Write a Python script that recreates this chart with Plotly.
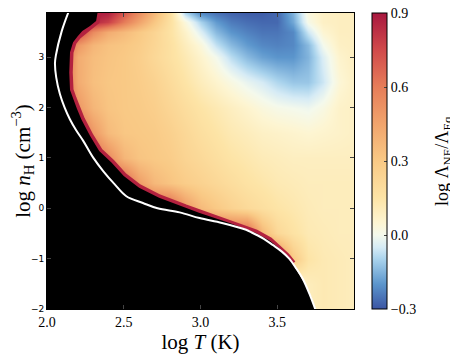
import plotly.graph_objects as go

# grid of the ratio map (log T across, log nH up)
log_T = [2.0, 2.1, 2.2, 2.3, 2.4, 2.5, 2.6, 2.7, 2.8, 2.9, 3.0,
         3.1, 3.2, 3.3, 3.4, 3.5, 3.6, 3.7, 3.8, 3.9, 4.0]
log_nH = [-2.0, -1.5, -1.0, -0.5, 0.0, 0.5, 1.0, 1.5, 2.0, 2.5, 3.0, 3.25, 3.5, 3.7, 3.9]

# log Lambda_NE / Lambda_Eq, one row per log_nH value
ratio = [
    [0.10, 0.10, 0.10, 0.10, 0.10, 0.10, 0.10, 0.10, 0.10, 0.10, 0.10, 0.10, 0.10, 0.10, 0.10, 0.10, 0.10, 0.10, 0.12, 0.11, 0.10],
    [0.10, 0.10, 0.10, 0.10, 0.10, 0.10, 0.10, 0.10, 0.10, 0.10, 0.10, 0.10, 0.10, 0.10, 0.10, 0.10, 0.02, 0.10, 0.12, 0.11, 0.10],
    [0.60, 0.60, 0.60, 0.60, 0.60, 0.60, 0.60, 0.60, 0.60, 0.60, 0.60, 0.60, 0.60, 0.60, 0.60, 0.60, 0.30, 0.15, 0.12, 0.11, 0.10],
    [0.70, 0.70, 0.70, 0.70, 0.70, 0.70, 0.70, 0.70, 0.70, 0.70, 0.70, 0.70, 0.70, 0.70, 0.38, 0.22, 0.16, 0.12, 0.11, 0.10, 0.10],
    [0.70, 0.70, 0.70, 0.70, 0.70, 0.70, 0.70, 0.70, 0.70, 0.50, 0.36, 0.30, 0.25, 0.21, 0.18, 0.15, 0.13, 0.11, 0.10, 0.10, 0.10],
    [0.70, 0.70, 0.70, 0.70, 0.70, 0.70, 0.48, 0.37, 0.32, 0.28, 0.25, 0.22, 0.19, 0.16, 0.14, 0.12, 0.11, 0.10, 0.10, 0.10, 0.10],
    [0.70, 0.70, 0.70, 0.70, 0.55, 0.38, 0.32, 0.30, 0.28, 0.24, 0.21, 0.18, 0.15, 0.13, 0.11, 0.10, 0.09, 0.09, 0.09, 0.09, 0.09],
    [0.70, 0.70, 0.70, 0.50, 0.36, 0.31, 0.30, 0.29, 0.26, 0.22, 0.18, 0.15, 0.12, 0.10, 0.08, 0.07, 0.06, 0.05, 0.06, 0.07, 0.08],
    [0.70, 0.70, 0.50, 0.38, 0.32, 0.30, 0.29, 0.27, 0.23, 0.19, 0.15, 0.12, 0.09, 0.06, 0.03, 0.01, 0.00, -0.01, 0.02, 0.07, 0.08],
    [0.70, 0.70, 0.42, 0.34, 0.31, 0.30, 0.28, 0.25, 0.20, 0.15, 0.10, 0.06, 0.02, -0.02, -0.05, -0.09, -0.12, -0.12, -0.06, 0.04, 0.08],
    [0.70, 0.70, 0.42, 0.35, 0.32, 0.30, 0.27, 0.22, 0.17, 0.12, 0.06, 0.00, -0.08, -0.14, -0.18, -0.20, -0.20, -0.15, -0.04, 0.06, 0.09],
    [0.75, 0.75, 0.50, 0.38, 0.33, 0.31, 0.28, 0.23, 0.17, 0.10, 0.03, -0.07, -0.14, -0.19, -0.22, -0.23, -0.22, -0.14, 0.00, 0.08, 0.09],
    [0.85, 0.85, 0.80, 0.55, 0.42, 0.36, 0.30, 0.24, 0.16, 0.07, -0.04, -0.14, -0.20, -0.23, -0.25, -0.25, -0.22, -0.06, 0.05, 0.09, 0.09],
    [0.88, 0.88, 0.88, 0.86, 0.78, 0.60, 0.45, 0.31, 0.17, 0.03, -0.10, -0.19, -0.24, -0.26, -0.27, -0.27, -0.17, 0.01, 0.08, 0.09, 0.09],
    [0.90, 0.90, 0.90, 0.90, 0.88, 0.72, 0.55, 0.38, 0.18, -0.10, -0.23, -0.26, -0.28, -0.29, -0.29, -0.27, -0.15, 0.03, 0.08, 0.09, 0.09],
]

# edge of the region with no solution (drawn black)
edge_logT = [2.33, 2.32, 2.28, 2.23, 2.20, 2.17, 2.15, 2.145, 2.15, 2.17, 2.195, 2.225, 2.28, 2.34, 2.42,
             2.50, 2.60, 2.73, 2.90, 2.99, 3.19, 3.36, 3.45, 3.51, 3.56, 3.60, 3.64, 3.68, 3.72, 3.75]
edge_lognH = [3.90, 3.72, 3.62, 3.52, 3.42, 3.30, 3.10, 2.70, 2.35, 2.18, 1.98, 1.76, 1.44, 1.14, 0.91,
              0.64, 0.41, 0.21, 0.01, -0.09, -0.29, -0.49, -0.64, -0.79, -0.95, -1.10, -1.30, -1.50, -1.75, -2.00]

# equilibrium curve (white)
curve_logT = [2.14, 2.095, 2.058, 2.052, 2.06, 2.084, 2.115, 2.149, 2.19, 2.236, 2.301, 2.366, 2.44, 2.517,
              2.625, 2.72, 2.864, 2.994, 3.14, 3.297, 3.34, 3.41, 3.47, 3.53, 3.578, 3.625, 3.665, 3.71, 3.751]
curve_lognH = [3.9, 3.51, 3.04, 2.88, 2.6, 2.27, 2.0, 1.77, 1.55, 1.34, 1.006, 0.74, 0.48, 0.24,
               0.106, 0.0, -0.08, -0.194, -0.29, -0.426, -0.49, -0.6, -0.726, -0.86, -1.0, -1.2, -1.394, -1.7, -2.03]

cbar_ticks = [-0.3, 0.0, 0.3, 0.6, 0.9]
cbar_labels = ["\u22120.3", "0.0", "0.3", "0.6", "0.9"]

zmin, zmax = -0.3, 0.9
x_range = [2.0, 4.0]
y_range = [-2.0, 3.88]

stops = [(-0.3, "#3b55a3"), (-0.2, "#5b95cc"), (-0.1, "#a8d2ec"), (-0.05, "#d6ebf5"),
         (0.0, "#f4f9ec"), (0.05, "#fdf5d2"), (0.15, "#fde4a6"), (0.3, "#f9c985"),
         (0.45, "#f1a46c"), (0.6, "#e67d59"), (0.75, "#d14a4b"), (0.9, "#a8183f")]
colorscale = [[(v - zmin) / (zmax - zmin), c] for v, c in stops]

serif = "Liberation Serif"

fig = go.Figure()

fig.add_trace(go.Heatmap(
    x=log_T, y=log_nH, z=ratio, zmin=zmin, zmax=zmax,
    colorscale=colorscale, zsmooth="best",
    colorbar=dict(
        x=1.0586, xanchor="left", y=0.5, len=1, ypad=0, xpad=0, thickness=15,
        outlinewidth=1, outlinecolor="black",
        tickvals=cbar_ticks, ticktext=cbar_labels, ticklabeloverflow="allow",
        ticks="inside", ticklen=3, tickcolor="#444",
        tickfont=dict(family=serif, size=14, color="black"),
    ),
))

# thin dark-red rim along the edge (half of it hidden under the black fill)
n_red = sum(1 for v in edge_lognH if v >= -1.1)
fig.add_trace(go.Scatter(
    x=edge_logT[:n_red], y=edge_lognH[:n_red], mode="lines",
    line=dict(color="#b3213f", width=7),
    hoverinfo="skip", showlegend=False,
))

fig.add_trace(go.Scatter(
    x=edge_logT + [x_range[0], x_range[0]],
    y=edge_lognH + [edge_lognH[-1], edge_lognH[0]],
    mode="lines", fill="toself", fillcolor="black",
    line=dict(width=0, color="black"),
    hoverinfo="skip", showlegend=False,
))

fig.add_trace(go.Scatter(
    x=curve_logT, y=curve_lognH, mode="lines",
    line=dict(color="white", width=2, shape="spline"),
    hoverinfo="skip", showlegend=False,
))

# colorbar title, placed by hand to the right of the tick labels
fig.add_annotation(
    text="log \u039b<sub>NE</sub>/\u039b<sub>Eq</sub>", textangle=-90,
    xref="paper", yref="paper", x=1.29, y=0.5, xanchor="center", yanchor="middle",
    showarrow=False, font=dict(family=serif, size=18, color="black"),
)

# the page puts an 8px body margin round the figure, so size it to fit
fig.update_layout(
    width=450, height=347,
    margin=dict(l=39, r=104, t=5, b=46, autoexpand=False),
    paper_bgcolor="white", plot_bgcolor="black",
    showlegend=False,
)
fig.update_xaxes(
    range=x_range, tickvals=[2.0, 2.5, 3.0, 3.5], ticktext=["2.0", "2.5", "3.0", "3.5"],
    ticks="inside", ticklen=4, tickcolor="#444", mirror="ticks",
    showline=True, linecolor="black", linewidth=1, showgrid=False, zeroline=False,
    tickfont=dict(family=serif, size=14, color="black"),
    title=dict(text="log <i>T</i> (K)", font=dict(family=serif, size=21, color="black"), standoff=0),
)
fig.update_yaxes(
    range=y_range, tickvals=[-2, -1, 0, 1, 2, 3],
    ticks="inside", ticklen=4, tickcolor="#444", mirror="ticks",
    showline=True, linecolor="black", linewidth=1, showgrid=False, zeroline=False,
    tickfont=dict(family="DejaVu Sans", size=9, color="black"),
    title=dict(text="log <i>n</i><sub>H</sub> (cm<sup>\u22123</sup>)",
               font=dict(family=serif, size=21, color="black"), standoff=2),
)

fig.write_html("out.html", config={"displayModeBar": False})
